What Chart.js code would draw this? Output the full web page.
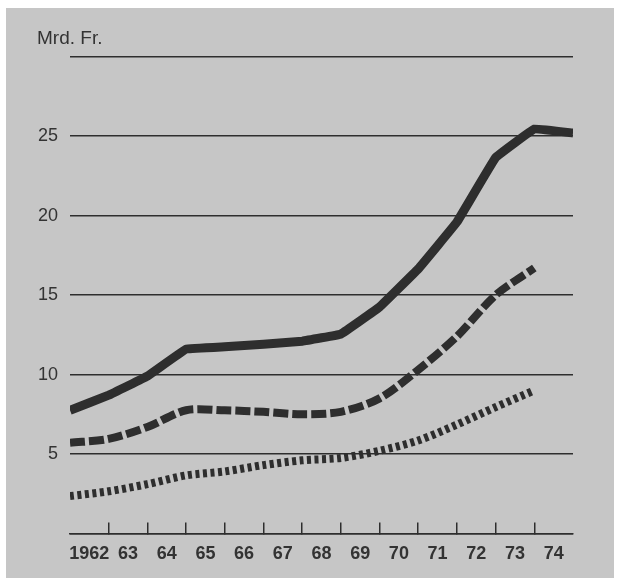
<!DOCTYPE html>
<html>
<head>
<meta charset="utf-8">
<script src="https://cdn.jsdelivr.net/npm/chart.js@4/dist/chart.umd.min.js"></script>
<style>
  html, body { margin: 0; padding: 0; background: #ffffff; overflow: hidden; width: 620px; height: 583px; }
  #bg { position: absolute; left: 6px; top: 8px; width: 608px; height: 570px; background: #c6c6c6; }
  #c { position: absolute; left: 0; top: 0; }
</style>
</head>
<body>
<div id="bg"></div>
<canvas id="c" width="620" height="586"></canvas>
<script>
// Year categories (labels sit between the tick marks)
const yearLabels = ['1962', '63', '64', '65', '66', '67', '68', '69', '70', '71', '72', '73', '74'];
// Values in Mrd. Fr. at the year boundaries (start of 1962 ... end of 1974)
const solidValues  = [7.75, 8.7, 9.9, 11.6, 11.75, 11.9, 12.1, 12.55, 14.25, 16.65, 19.6, 23.65, 25.45, 25.2];
const dashedValues = [5.7, 5.95, 6.7, 7.75, 7.75, 7.65, 7.5, 7.65, 8.5, 10.3, 12.4, 15.0, 16.7];
const dottedValues = [2.35, 2.65, 3.1, 3.65, 3.9, 4.3, 4.6, 4.75, 5.2, 5.85, 6.85, 7.95, 9.0];
const yTickValues  = [5, 10, 15, 20, 25];
const unitLabel = 'Mrd. Fr.';

const ink = '#2e2e2e';
const toPoints = arr => arr.map((v, i) => ({ x: i, y: v }));

new Chart(document.getElementById('c'), {
  type: 'line',
  data: {
    datasets: [
      { data: toPoints(solidValues), borderColor: ink, borderWidth: 9, tension: 0.05, pointRadius: 0, borderCapStyle: 'butt', borderJoinStyle: 'miter' },
      { data: toPoints(dashedValues), borderColor: ink, borderWidth: 8, borderDash: [15, 4], tension: 0.3, pointRadius: 0, borderCapStyle: 'butt' },
      { data: toPoints(dottedValues), borderColor: ink, borderWidth: 8, borderDash: [4, 3.5], tension: 0.3, pointRadius: 0, borderCapStyle: 'butt' }
    ]
  },
  options: {
    responsive: false,
    animation: false,
    layout: { padding: { left: 37, right: 47, top: 0, bottom: 0 } },
    plugins: {
      legend: { display: false },
      tooltip: { enabled: false },
      title: {
        display: true,
        text: unitLabel,
        align: 'start',
        color: '#333',
        font: { family: 'Liberation Sans, Arial, sans-serif', size: 19, weight: 'normal' },
        padding: { top: 27, bottom: 7 }
      }
    },
    scales: {
      x: {
        type: 'linear',
        min: 0,
        max: yearLabels.length,
        afterBuildTicks: scale => {
          const t = [];
          for (let i = 0; i <= yearLabels.length; i++) {
            t.push({ value: i });
            if (i < yearLabels.length) t.push({ value: i + 0.5 });
          }
          scale.ticks = t;
        },
        ticks: {
          autoSkip: false,
          maxRotation: 0,
          padding: 21,
          color: '#333',
          font: { family: 'Liberation Sans, Arial, sans-serif', size: 18, weight: 'bold' },
          callback: v => (Number.isInteger(v) ? '' : yearLabels[Math.floor(v)])
        },
        grid: {
          drawOnChartArea: false,
          drawTicks: true,
          tickLength: -11,
          lineWidth: 1.5,
          color: ctx => {
            const v = ctx.tick ? ctx.tick.value : -1;
            return (Number.isInteger(v) && v > 0 && v < yearLabels.length) ? ink : 'rgba(0,0,0,0)';
          }
        },
        border: { display: true, color: ink, width: 1.5 }
      },
      y: {
        min: 0,
        max: 30,
        afterBuildTicks: scale => {
          scale.ticks = [0].concat(yTickValues, [30]).map(v => ({ value: v }));
        },
        afterFit: scale => { scale.width = 33; },
        ticks: {
          padding: 12,
          color: '#333',
          font: { family: 'Liberation Sans, Arial, sans-serif', size: 18 },
          callback: v => (yTickValues.includes(v) ? String(v) : '')
        },
        grid: { drawTicks: false, color: ink, lineWidth: 1.5 },
        border: { display: false }
      }
    }
  }
});
</script>
</body>
</html>
